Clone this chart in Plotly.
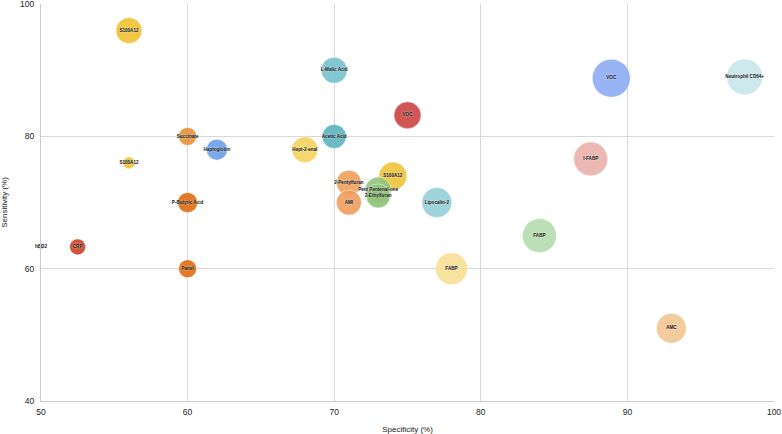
import plotly.graph_objects as go

labels = ["S100A12", "Succinate", "Haptoglobin", "S100A12", "P-Butyric Acid", "hBD2", "CRP", "Panel",
          "L-Malic Acid", "VOC", "Acetic Acid", "Hept-2-enal", "S100A12", "2-Pentylfuran",
          "Pent Pentenal-one", "2-Ethylfuran", "AMI", "Lipocalin-2", "FABP", "FABP", "I-FABP", "VOC",
          "Neutrophil CD64+", "AMC"]
specificity = [56, 60, 62, 56, 60, 50, 52.5, 60,
               70, 75, 70, 68, 74, 71,
               73, 73, 71, 77, 78, 84, 87.5, 88.9,
               98, 93]
sensitivity = [96, 80, 78, 76, 70, 63.3, 63.3, 60,
               90, 83.2, 80, 78, 74, 73,
               71.9, 71, 70, 70, 60, 65, 76.6, 88.8,
               89, 51]
bubble_size = [26, 18, 21, 12, 20, 5, 16, 18,
               26, 27, 24, 26, 28, 25,
               26, 24, 25, 30, 32, 34, 34, 38,
               36, 30]
colors = ["#f1c232", "#e69138", "#6d9eeb", "#f1c232", "#e06c10", "#a4c2f4", "#cc4125", "#e06c10",
          "#76c1cc", "#cc4444", "#5db3be", "#f4d35e", "#efc33a", "#f0a05c",
          "#93c47d", "#8fc278", "#ee9e5e", "#96d0d8", "#f7df95", "#b6dcb0", "#eab1ab", "#8eacf5",
          "#c9e7ec", "#f3c692"]

fig = go.Figure()
fig.add_trace(go.Scatter(
    x=specificity, y=sensitivity, text=labels,
    mode="markers+text", textposition="middle center",
    marker=dict(size=bubble_size, sizemode="diameter", color=colors, opacity=0.9,
                line=dict(color="white", width=0.5)),
    textfont=dict(size=4.6, color="#111", family="Liberation Sans, Arial", weight="bold",
                  shadow="0px 0px 2px white"),
    hoverinfo="text", cliponaxis=False,
))

fig.update_layout(
    width=782, height=434,
    margin=dict(l=41, r=8, t=4, b=33),
    plot_bgcolor="white", paper_bgcolor="white",
    showlegend=False,
    font=dict(family="Liberation Sans, Arial", size=8.5, color="#222"),
    xaxis=dict(range=[50, 100], tickvals=[50, 60, 70, 80, 90, 100], showgrid=True,
               gridcolor="#d9d9d9", gridwidth=1, zeroline=False, showline=True,
               linecolor="#cccccc", ticks="", ticklabelstandoff=3, automargin=False,
               title=dict(text="Specificity (%)", font=dict(size=8, color="#222"), standoff=14)),
    yaxis=dict(range=[40, 100.02], tickvals=[40, 60, 80, 100], showgrid=True,
               gridcolor="#d9d9d9", gridwidth=1, zeroline=False, showline=True,
               linecolor="#cccccc", ticks="", ticklabelstandoff=4, automargin=False,
               ticklabeloverflow="allow",
               title=dict(text="Sensitivity (%)", font=dict(size=8, color="#222"), standoff=12)),
)

fig.write_html("out.html")
